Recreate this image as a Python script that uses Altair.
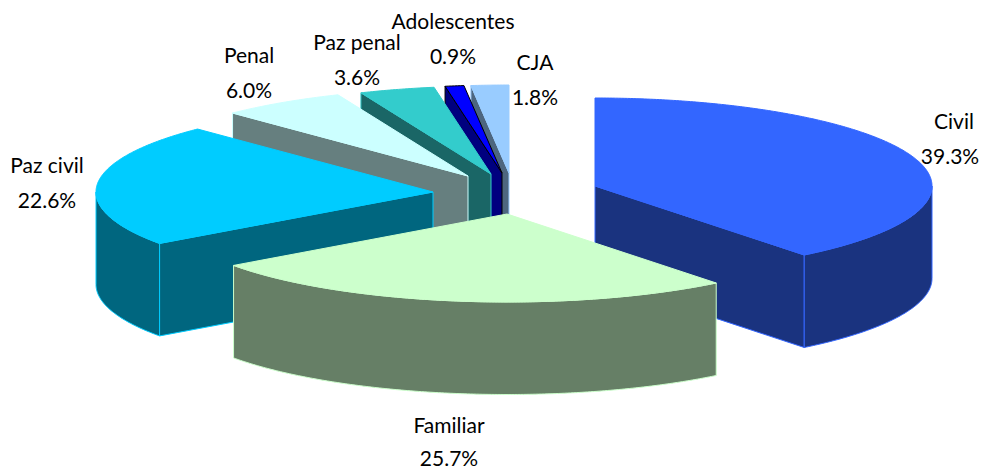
import math
import altair as alt
import pandas as pd

# ---- chart values
categories = ["Civil", "Familiar", "Paz civil", "Penal", "Paz penal", "Adolescentes", "CJA"]
shares = [39.3, 25.7, 22.6, 6.0, 3.6, 0.9, 1.8]
share_labels = ["39.3%", "25.7%", "22.6%", "6.0%", "3.6%", "0.9%", "1.8%"]

# ---- styling and layout
top_colors = ["#3366FF", "#CCFFCC", "#00CCFF", "#CCFFFF", "#33CCCC", "#0000FF", "#99CCFF"]
side_colors = ["#1A337F", "#667F66", "#00667F", "#667F7F", "#1A6666", "#00007F", "#4D667F"]
edge_colors = ["#3366FF", "#CCFFCC", "#00CCFF", "#CCFFFF", "#33CCCC", "#000000", "#99CCFF"]
exploded_x = [595, 507, 433, 468, 491, 502, 509]
exploded_y = [186, 214, 192, 176, 174, 173, 173]
name_x = [954, 449, 47, 249, 357, 453, 535]
share_x = [950, 449, 47, 249, 357, 453, 535]
name_y = [123, 427, 167, 57, 44, 23, 64]
share_y = [158, 460, 202, 92, 79, 58, 99]
radius_x, radius_y, depth = 337, 88, 92.5
draw_order = [6, 5, 4, 3, 2, 0, 1]

W, H = 971, 461
x_scale = alt.Scale(domain=[8, 8 + W], nice=False, zero=False)
y_scale = alt.Scale(domain=[8 + H, 8], nice=False, zero=False)


def outer(i, deg, drop=0.0):
    t = math.radians(deg)
    return (exploded_x[i] + radius_x * math.sin(t),
            exploded_y[i] - radius_y * math.cos(t) + drop)


def arc(i, a, b, drop=0.0):
    n = max(2, int(abs(b - a) * 2))
    return [outer(i, a + (b - a) * k / n, drop) for k in range(n + 1)]


def poly(points, fill, stroke, width=1.0):
    df = pd.DataFrame(points, columns=["x", "y"])
    df["o"] = range(len(df))
    return alt.Chart(df).mark_line(
        interpolate="linear-closed", fill=fill, stroke=stroke, strokeWidth=width,
        strokeJoin="round", clip=False,
    ).encode(
        x=alt.X("x:Q", scale=x_scale, axis=None),
        y=alt.Y("y:Q", scale=y_scale, axis=None),
        order=alt.Order("o:Q"),
    )


total = sum(shares)
bounds = [0.0]
for s in shares:
    bounds.append(bounds[-1] + s / total * 360)

layers = []
for i in draw_order:
    a, b = bounds[i], bounds[i + 1]
    apex = (exploded_x[i], exploded_y[i])
    low = (apex[0], apex[1] + depth)
    side, edge = side_colors[i], edge_colors[i]
    # radial wall that faces the viewer
    for deg, visible in ((a, math.sin(math.radians(a)) < -1e-6), (b, math.sin(math.radians(b)) > 1e-6)):
        if visible:
            layers.append(poly([apex, outer(i, deg), outer(i, deg, depth), low], side, edge))
    # outer wall (front half of the ellipse)
    wa, wb = max(a, 90), min(b, 270)
    if wb > wa:
        layers.append(poly(arc(i, wa, wb) + arc(i, wb, wa, depth), side, edge))
    # top face
    layers.append(poly([apex] + arc(i, a, b), top_colors[i], edge))

labels = pd.DataFrame({
    "t": categories + share_labels,
    "x": name_x + share_x,
    "y": name_y + share_y,
})
text = alt.Chart(labels).mark_text(
    font="Lato", fontSize=21, color="#000000", align="center", baseline="middle", clip=False,
).encode(
    x=alt.X("x:Q", scale=x_scale, axis=None),
    y=alt.Y("y:Q", scale=y_scale, axis=None),
    text="t:N",
)

chart = alt.layer(*layers, text).properties(
    width=W, height=H, padding=0, autosize=alt.AutoSizeParams(type="none"), background="#FFFFFF",
).configure_view(stroke=None)

chart.save("out.html", embed_options={"renderer": "svg", "actions": False})
